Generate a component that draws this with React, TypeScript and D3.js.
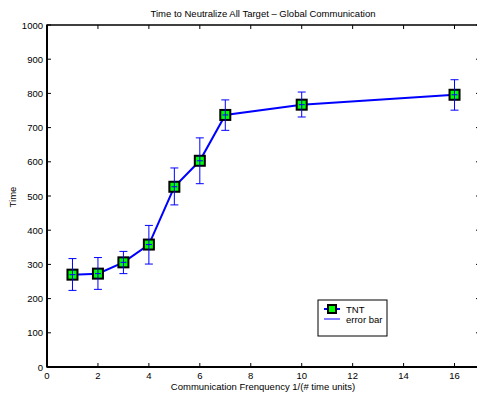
import React, { useEffect, useRef } from 'react';
import * as d3 from 'd3';

// communication frequency, mean time, error half-widths (low / high)
const freqs = [1, 2, 3, 4, 5, 6, 7, 10, 16];
const times = [270, 273, 306, 358, 527, 603, 737, 767, 796];
const errLow = [46, 46, 33, 57, 53, 67, 45, 36, 45];
const errHigh = [47, 47, 32, 56, 55, 67, 44, 37, 44];
const xTicks = [0, 2, 4, 6, 8, 10, 12, 14, 16];
const yTicks = [0, 100, 200, 300, 400, 500, 600, 700, 800, 900, 1000];
const legendItems = ['TNT', 'error bar'];

const W = 477;
const H = 398;
const FONT = '"Liberation Sans", Arial, Helvetica, sans-serif';

export default function App() {
  const ref = useRef<SVGSVGElement>(null);

  useEffect(() => {
    const svg = d3.select(ref.current);
    svg.selectAll('*').remove();

    const left = 47, right = 480, top = 25, bottom = 367;
    const x = d3.scaleLinear().domain([0, 17]).range([left, right]);
    const y = d3.scaleLinear().domain([0, 1000]).range([bottom, top]);

    svg.append('rect').attr('width', W).attr('height', H).attr('fill', 'white');

    // frame
    svg.append('rect')
      .attr('x', left).attr('y', top)
      .attr('width', right - left).attr('height', bottom - top)
      .attr('fill', 'none').attr('stroke', 'black').attr('stroke-width', 1.5);
    svg.append('line').attr('x1', left).attr('x2', left).attr('y1', top).attr('y2', bottom)
      .attr('stroke', 'black').attr('stroke-width', 2);
    svg.append('line').attr('x1', left).attr('x2', right).attr('y1', bottom).attr('y2', bottom)
      .attr('stroke', 'black').attr('stroke-width', 2);

    const tl = 4;
    // x ticks (bottom and top, inward)
    svg.append('g').selectAll('line').data(xTicks).enter().append('line')
      .attr('x1', d => x(d)).attr('x2', d => x(d))
      .attr('y1', bottom).attr('y2', bottom - tl)
      .attr('stroke', 'black').attr('stroke-width', 1);
    svg.append('g').selectAll('line').data(xTicks).enter().append('line')
      .attr('x1', d => x(d)).attr('x2', d => x(d))
      .attr('y1', top).attr('y2', top + tl)
      .attr('stroke', 'black').attr('stroke-width', 1);
    svg.append('g').selectAll('text').data(xTicks).enter().append('text')
      .attr('x', d => x(d)).attr('y', bottom + 12)
      .attr('text-anchor', 'middle')
      .style('font-family', FONT).style('font-size', '9.5px')
      .text(d => d);

    // y ticks (left and right, inward)
    svg.append('g').selectAll('line').data(yTicks).enter().append('line')
      .attr('x1', left).attr('x2', left + tl)
      .attr('y1', d => y(d)).attr('y2', d => y(d))
      .attr('stroke', 'black').attr('stroke-width', 1);
    svg.append('g').selectAll('line').data(yTicks).enter().append('line')
      .attr('x1', right).attr('x2', right - tl)
      .attr('y1', d => y(d)).attr('y2', d => y(d))
      .attr('stroke', 'black').attr('stroke-width', 1);
    svg.append('g').selectAll('text').data(yTicks).enter().append('text')
      .attr('x', left - 4).attr('y', d => y(d) + 3.5)
      .attr('text-anchor', 'end')
      .style('font-family', FONT).style('font-size', '9.5px')
      .text(d => d);

    // title and axis labels
    svg.append('text')
      .attr('x', 263).attr('y', 17)
      .attr('text-anchor', 'middle')
      .style('font-family', FONT).style('font-size', '9.5px')
      .text('Time to Neutralize All Target \u2013 Global Communication');
    svg.append('text')
      .attr('x', 263).attr('y', 390)
      .attr('text-anchor', 'middle')
      .style('font-family', FONT).style('font-size', '9.5px')
      .text('Communication Frenquency 1/(# time units)');
    svg.append('text')
      .attr('transform', `translate(16, ${(top + bottom) / 2 + 1}) rotate(-90)`)
      .attr('text-anchor', 'middle')
      .style('font-family', FONT).style('font-size', '9.5px')
      .text('Time');

    const data = freqs.map((f, i) => ({ f, t: times[i], lo: times[i] - errLow[i], hi: times[i] + errHigh[i] }));

    // connecting line
    const line = d3.line<typeof data[0]>().x(d => x(d.f)).y(d => y(d.t));
    svg.append('path').datum(data)
      .attr('d', line)
      .attr('fill', 'none').attr('stroke', '#0000ff').attr('stroke-width', 2);

    // markers
    const ms = 10;
    svg.append('g').selectAll('rect').data(data).enter().append('rect')
      .attr('x', d => x(d.f) - ms / 2).attr('y', d => y(d.t) - ms / 2)
      .attr('width', ms).attr('height', ms)
      .attr('fill', '#00ff00').attr('stroke', 'black').attr('stroke-width', 2);

    // error bars
    const cap = 4;
    const eb = svg.append('g').attr('stroke', '#0000ff').attr('stroke-width', 1);
    eb.selectAll('line.v').data(data).enter().append('line').attr('class', 'v')
      .attr('x1', d => x(d.f)).attr('x2', d => x(d.f))
      .attr('y1', d => y(d.lo)).attr('y2', d => y(d.hi));
    eb.selectAll('line.t').data(data).enter().append('line').attr('class', 't')
      .attr('x1', d => x(d.f) - cap).attr('x2', d => x(d.f) + cap)
      .attr('y1', d => y(d.hi)).attr('y2', d => y(d.hi));
    eb.selectAll('line.b').data(data).enter().append('line').attr('class', 'b')
      .attr('x1', d => x(d.f) - cap).attr('x2', d => x(d.f) + cap)
      .attr('y1', d => y(d.lo)).attr('y2', d => y(d.lo));
    svg.append('g').selectAll('line').data(data).enter().append('line')
      .attr('x1', d => x(d.f) - 3).attr('x2', d => x(d.f) + 3)
      .attr('y1', d => y(d.t)).attr('y2', d => y(d.t))
      .attr('stroke', '#0000ff').attr('stroke-width', 1);

    // legend
    const lg = svg.append('g').attr('transform', 'translate(318, 300)');
    lg.append('rect').attr('width', 69).attr('height', 36)
      .attr('fill', 'white').attr('stroke', 'black').attr('stroke-width', 1);
    lg.append('line').attr('x1', 6).attr('x2', 22).attr('y1', 9).attr('y2', 9)
      .attr('stroke', '#0000ff').attr('stroke-width', 2);
    lg.append('rect').attr('x', 10).attr('y', 5).attr('width', 8).attr('height', 8)
      .attr('fill', '#00ff00').attr('stroke', 'black').attr('stroke-width', 2);
    lg.append('line').attr('x1', 6).attr('x2', 22).attr('y1', 19).attr('y2', 19)
      .attr('stroke', '#0000ff').attr('stroke-width', 1);
    lg.selectAll('text').data(legendItems).enter().append('text')
      .attr('x', 28).attr('y', (d, i) => 12.5 + i * 10)
      .style('font-family', FONT).style('font-size', '9.5px')
      .text(d => d);
  });

  return (
    <svg ref={ref} width={W} height={H} style={{ position: 'absolute', left: 0, top: 0, display: 'block' }} />
  );
}
